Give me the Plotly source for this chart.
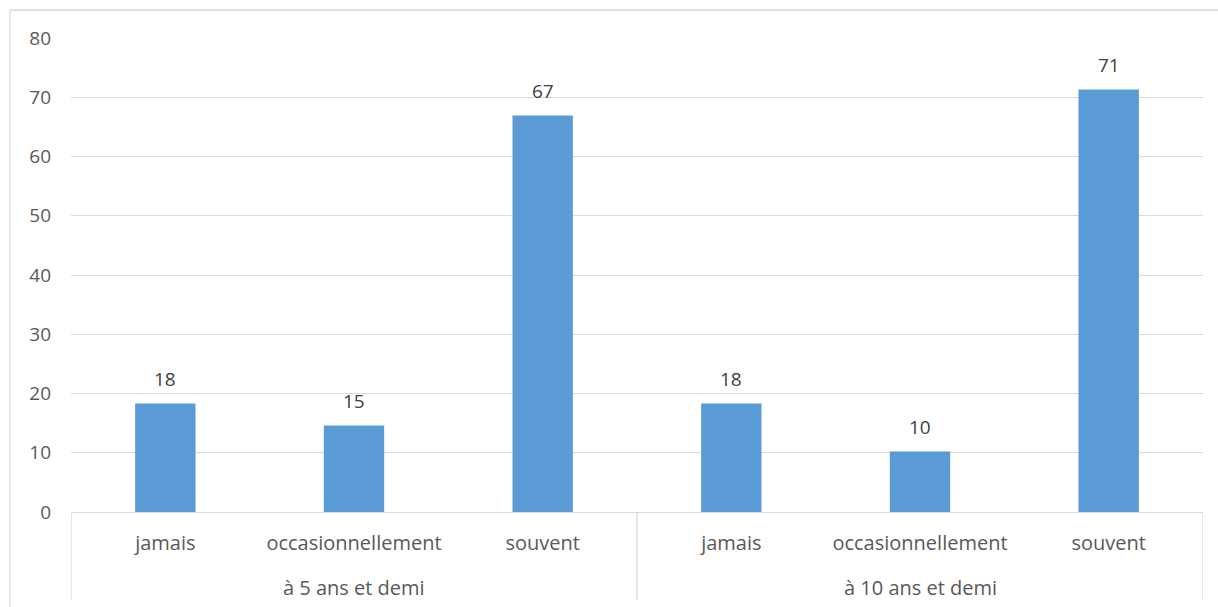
import plotly.graph_objects as go

groups = ["à 5 ans et demi", "à 10 ans et demi"]
categories = ["jamais", "occasionnellement", "souvent", "jamais", "occasionnellement", "souvent"]
values = [18.3, 14.6, 66.9, 18.3, 10.2, 71.3]
y_ticks = [0, 10, 20, 30, 40, 50, 60, 70, 80]

W, H = 1218, 607
L, R, T, B = 71, 1203, 38, 512
GRID = "#d9d9d9"
FONT = "Open Sans"
FS = 20

xs = list(range(len(values)))

fig = go.Figure(go.Bar(
    x=xs, y=values,
    marker=dict(color="#5B9BD5", line=dict(width=0)),
    width=0.32,
))

def px(x):
    return (x - L) / (R - L)

def py(y):
    return (B - y) / (B - T)

annotations = []
for x, v in zip(xs, values):
    annotations.append(dict(x=x, y=v, xref="x", yref="y", text=f"{v:.0f}", showarrow=False,
                            yanchor="middle", yshift=25,
                            font=dict(family=FONT, size=FS - 1, color="#404040")))
n_per = len(categories) // len(groups)
for gi, g in enumerate(groups):
    annotations.append(dict(x=gi * n_per + (n_per - 1) / 2, y=py(587), xref="x", yref="paper",
                            text=g, showarrow=False, yanchor="middle",
                            font=dict(family=FONT, size=FS, color="#595959")))

shapes = [
    dict(type="line", xref="paper", yref="paper", x0=px(10), x1=px(1218), y0=py(10), y1=py(10),
         line=dict(color=GRID, width=1.3)),
    dict(type="line", xref="paper", yref="paper", x0=px(10), x1=px(10), y0=py(10), y1=py(607),
         line=dict(color=GRID, width=1.3)),
]
for k in range(len(groups) + 1):
    xv = k * n_per - 0.5
    shapes.append(dict(type="line", xref="x", yref="paper", x0=xv, x1=xv, y0=0, y1=py(600),
                       line=dict(color=GRID, width=1.3)))

fig.update_layout(
    width=W, height=H,
    margin=dict(l=L, r=W - R, t=T, b=H - B, autoexpand=False),
    plot_bgcolor="white", paper_bgcolor="white",
    showlegend=False,
    font=dict(family=FONT, size=FS, color="#595959"),
    xaxis=dict(
        range=[-0.5, len(values) - 0.5], tickvals=xs, ticktext=categories,
        showline=True, linecolor=GRID, linewidth=1.3,
        ticks="", ticklabelstandoff=13,
        tickfont=dict(family=FONT, size=FS, color="#595959"),
        showgrid=False, zeroline=False,
    ),
    yaxis=dict(
        range=[0, 80], tickvals=y_ticks, showgrid=True, gridcolor=GRID, gridwidth=1.3,
        zeroline=False, showline=False, ticks="", ticklabelstandoff=19,
        tickfont=dict(family=FONT, size=FS - 1, color="#595959"),
    ),
    shapes=shapes,
    annotations=annotations,
)

fig.write_html("out.html")
